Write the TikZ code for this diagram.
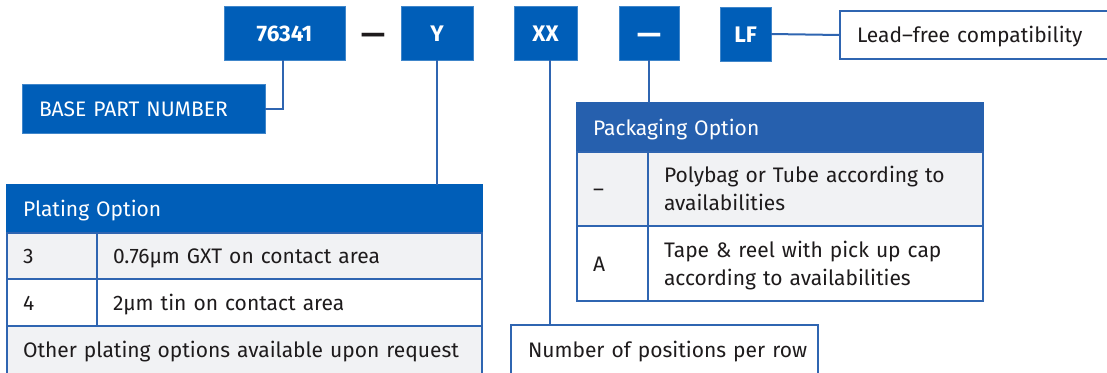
\documentclass[tikz,border=0pt]{standalone}
\usepackage{fontspec}
\setmainfont{Fira Sans}
\usetikzlibrary{positioning}

\definecolor{codeblue}{HTML}{005EB8}
\definecolor{packblue}{HTML}{2660AE}
\definecolor{lineblue}{HTML}{2F65B1}
\definecolor{rowgray}{HTML}{F1F2F4}
\definecolor{ink}{HTML}{1E1B1C}

\newcommand\codefont{\fontsize{22.5}{26}\selectfont\bfseries}
\newcommand\dashfont{\fontsize{30}{30}\selectfont\bfseries}
\newcommand\cellfont{\fontsize{21}{28}\selectfont}

\tikzstyle{codebox}=[fill=codeblue, draw=codeblue!75!white, line width=0.8pt, text=white,
  font=\codefont, minimum height=54pt, anchor=north west, outer sep=0pt, inner sep=0pt,
  text height=16pt, text depth=0pt]
\tikzstyle{cell}=[draw=lineblue, line width=2pt, anchor=north west, outer sep=0pt,
  inner xsep=16pt, inner ysep=0pt, align=left, text height=15pt, text depth=0pt,
  text=ink, font=\cellfont]
\tikzstyle{link}=[draw=lineblue, line width=2pt]

\begin{document}
\begin{tikzpicture}[x=1pt, y=-1pt]
\useasboundingbox (0,0) rectangle (1107,372);

% part number code
\node[codebox, minimum width=121pt] (pn) at (224,6) {76341};
\node[text=ink, font=\dashfont, inner sep=0pt] (sep) at (373,39) {—};
\node[codebox, minimum width=72pt] (y) at (401,6) {Y};
\node[codebox, minimum width=63pt] (xx) at (514,6) {XX};
\node[codebox, minimum width=60pt, font=\dashfont, text height=22pt] (pk) at (619,6) {—};
\node[codebox, minimum width=51pt] (lf) at (720,7) {LF};

% callouts
\node[codebox, font=\cellfont, minimum width=243pt, minimum height=49pt, inner xsep=17pt,
  text width=209pt, align=left, text height=15pt] (base) at (22,84) {\mbox{BASE PART NUMBER}};
\node[cell, fill=white, minimum height=48pt, inner xsep=17pt, text width=240pt] (leadbox) at (840,11)
  {\mbox{Lead–free compatibility}};
\node[cell, fill=white, minimum height=50pt, inner xsep=17pt, text width=273pt] (numbox) at (511,325)
  {\mbox{Number of positions per row}};

% plating table
\node[cell, fill=codeblue, draw=codeblue, text=white, minimum height=48pt, text width=443pt] (plhead) at (7,185)
  {Plating Option};
\foreach \code/\desc/\ytop/\rowh/\shade [count=\i] in
  {3/{0.76µm GXT on contact area}/233/46/rowgray, 4/{2µm tin on contact area}/279/47/white}{%
    \node[cell, fill=\shade, minimum height=\rowh pt, text width=58pt] (pl\i a) at (7,\ytop) {\code};
    \node[cell, fill=\shade, minimum height=\rowh pt, text width=353pt] (pl\i b) at (97,\ytop) {\desc};
}
\node[cell, fill=rowgray, minimum height=48pt, text width=443pt] (plfoot) at (7,326)
  {\mbox{Other plating options available upon request}};

% packaging table
\node[cell, fill=packblue, draw=packblue, text=white, minimum height=49pt, text width=374pt] (pkhead) at (577,103)
  {Packaging Option};
\node[cell, fill=rowgray, minimum height=74pt, text width=39pt] (pk1a) at (577,152) {–};
\node[cell, fill=rowgray, minimum height=74pt, text width=303pt, text depth=28pt] (pk1b) at (648,152)
  {Polybag or Tube according to\\availabilities};
\node[cell, fill=white, minimum height=75pt, text width=39pt] (pk2a) at (577,226) {A};
\node[cell, fill=white, minimum height=75pt, text width=303pt, text depth=28pt] (pk2b) at (648,226)
  {Tape \& reel with pick up cap\\according to availabilities};

% connectors
\draw[link] ([xshift=-2pt]pn.south) |- (base.east);
\draw[link] (y.south) -- (y.south |- plhead.north);
\draw[link] ([xshift=4pt]xx.south) -- ([xshift=4pt]xx.south |- numbox.north);
\draw[link] (pk.south) -- (pk.south |- pkhead.north);
\draw[link] (lf.east) -- (leadbox.west);

\end{tikzpicture}
\end{document}
